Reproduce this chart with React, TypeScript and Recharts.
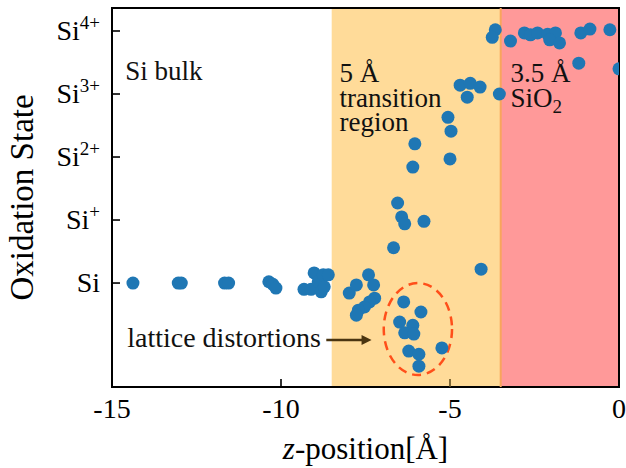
import React from "react";
import {
  ScatterChart,
  Scatter,
  XAxis,
  YAxis,
  ReferenceArea,
  ReferenceLine,
  ReferenceDot,
} from "recharts";

const FONT = '"Liberation Serif", "DejaVu Serif", serif';
const DOT = "#1f77b4";

// Si bulk (left of the transition region)
const bulkZ = [-14.38, -13.04, -12.95, -11.67, -11.55, -10.36, -10.24, -10.15, -9.32, -9.11, -9.02, -8.9, -8.81, -8.75, -8.72, -8.6];
const bulkState = [0, 0, 0, 0, 0, 0.02, -0.02, -0.08, -0.1, -0.1, 0.16, 0.02, -0.14, 0.13, -0.06, 0.13];

// transition region
const transZ = [-7.98, -7.77, -7.41, -7.26, -7.23, -7.38, -7.53, -7.71, -7.77, -6.67, -6.55, -6.43, -6.34, -5.77, -4.08, -6.1, -6.04, -5.0, -4.97, -5.06, -4.7, -4.4, -4.11, -4.49, -3.54];
const transState = [-0.16, -0.03, 0.13, -0.03, -0.24, -0.3, -0.38, -0.43, -0.51, 0.56, 1.27, 1.05, 0.94, 0.98, 0.22, 1.84, 2.21, 1.97, 2.41, 2.63, 3.14, 3.17, 3.11, 2.95, 3.0];

// lattice distortions (inside the dashed ellipse)
const distortZ = [-6.37, -5.86, -6.49, -6.1, -6.34, -6.07, -6.22, -5.92, -5.92, -5.24];
const distortState = [-0.3, -0.46, -0.62, -0.67, -0.79, -0.81, -1.08, -1.13, -1.32, -1.03];

// SiO2
const oxideZ = [-3.66, -3.75, -3.21, -2.8, -2.62, -2.41, -2.11, -1.88, -2.05, -1.76, -1.13, -0.86, -0.27, -1.19, 0.0];
const oxideState = [4.02, 3.9, 3.84, 3.97, 3.94, 3.97, 3.95, 3.97, 3.86, 3.81, 3.97, 4.03, 4.02, 3.49, 3.4];

const zTicks = [-15, -10, -5, 0];
const stateTicks = [0, 1, 2, 3, 4];
const stateCharges = ["", "+", "2+", "3+", "4+"];

const zDomain: [number, number] = [-15, 0];
const stateDomain: [number, number] = [-1.65, 4.365];

const toPoints = (z: number[], s: number[]) => z.map((v, i) => ({ z: v, state: s[i] }));

const dotShape = (p: any) => <circle cx={p.cx} cy={p.cy} r={6.5} fill={DOT} />;

const XTick = ({ x, y, payload }: any) => (
  <g>
    <line x1={x} y1={y} x2={x} y2={y - 8} stroke={payload.value === -5 ? "#5c4a1e" : "#000"} strokeWidth={1.6} />
    <text x={x} y={y + 31} textAnchor="middle" fontSize={28} fill="#000" fontFamily={FONT}>
      {payload.value}
    </text>
  </g>
);

const YTick = ({ x, y, payload }: any) => {
  const charge = stateCharges[stateTicks.indexOf(payload.value)];
  return (
    <g>
      <line x1={x} y1={y} x2={x + 8} y2={y} stroke="#000" strokeWidth={1.6} />
      <text x={x - 12} y={y + 9} textAnchor="end" fontSize={28} fill="#000" fontFamily={FONT}>
        Si
        {charge ? (
          <tspan dy={-11} fontSize={19}>
            {charge}
          </tspan>
        ) : null}
      </text>
    </g>
  );
};

const note = (content: React.ReactNode, size = 27) => (p: any) => (
  <text x={p.cx} y={p.cy} fontSize={size} fill="#111" fontFamily={FONT}>
    {content}
  </text>
);

export default function App() {
  return (
    <div style={{ position: "absolute", left: 0, top: 0, width: 626, height: 468, background: "#fff", fontFamily: FONT }}>
      <ScatterChart width={626} height={468} margin={{ top: 8, right: 7, bottom: 0, left: 0 }}>
        <XAxis
          dataKey="z"
          type="number"
          domain={zDomain}
          ticks={zTicks}
          allowDataOverflow
          height={81}
          axisLine={false}
          tickLine={false}
          tickSize={0}
          tickMargin={0}
          tick={<XTick />}
          label={(props: any) => {
            const vb = props.viewBox;
            return (
              <text x={vb.x + vb.width / 2} y={vb.y + 72} textAnchor="middle" fontSize={31} fill="#000" fontFamily={FONT}>
                <tspan fontStyle="italic">z</tspan>-position[Å]
              </text>
            );
          }}
        />
        <YAxis
          dataKey="state"
          type="number"
          domain={stateDomain}
          ticks={stateTicks}
          allowDataOverflow
          width={112}
          axisLine={false}
          tickLine={false}
          tickSize={0}
          tickMargin={0}
          tick={<YTick />}
          label={(props: any) => {
            const vb = props.viewBox;
            const cy = vb.y + vb.height / 2;
            return (
              <text x={33} y={cy} transform={`rotate(-90, 33, ${cy})`} textAnchor="middle" fontSize={33} fill="#000" fontFamily={FONT}>
                Oxidation State
              </text>
            );
          }}
        />

        <ReferenceArea x1={-8.5} x2={-3.5} y1={stateDomain[0]} y2={stateDomain[1]} fill="#ffdb99" fillOpacity={1} stroke="none" />
        <ReferenceArea x1={-3.5} x2={0} y1={stateDomain[0]} y2={stateDomain[1]} fill="#ff9999" fillOpacity={1} stroke="none" />
        <ReferenceLine x={-3.5} stroke="#f8a55c" strokeWidth={2} />

        <Scatter data={toPoints(bulkZ, bulkState)} fill={DOT} shape={dotShape} isAnimationActive={false} />
        <Scatter data={toPoints(transZ, transState)} fill={DOT} shape={dotShape} isAnimationActive={false} />
        <Scatter data={toPoints(distortZ, distortState)} fill={DOT} shape={dotShape} isAnimationActive={false} />
        <Scatter data={toPoints(oxideZ, oxideState)} fill={DOT} shape={dotShape} isAnimationActive={false} />

        <ReferenceArea
          x1={-6.96}
          x2={-4.94}
          y1={-1.46}
          y2={0}
          shape={(p: any) => (
            <ellipse
              cx={p.x + p.width / 2}
              cy={p.y + p.height / 2}
              rx={p.width / 2}
              ry={p.height / 2}
              fill="none"
              stroke="#ff4f1a"
              strokeWidth={2.5}
              strokeDasharray="9 6"
            />
          )}
        />
        <ReferenceLine
          segment={[
            { x: -8.66, y: -0.905 },
            { x: -7.32, y: -0.905 },
          ]}
          shape={(p: any) => (
            <g>
              <line x1={p.x1} y1={p.y1} x2={p.x2 - 8} y2={p.y2} stroke="#4a3510" strokeWidth={2.5} />
              <polygon points={`${p.x2},${p.y2} ${p.x2 - 10},${p.y2 - 5} ${p.x2 - 10},${p.y2 + 5}`} fill="#4a3510" />
            </g>
          )}
        />

        <ReferenceDot x={-14.61} y={3.22} shape={note("Si bulk")} />
        <ReferenceDot x={-8.27} y={3.19} shape={note("5 Å")} />
        <ReferenceDot x={-8.27} y={2.79} shape={note("transition")} />
        <ReferenceDot x={-8.27} y={2.41} shape={note("region")} />
        <ReferenceDot x={-3.21} y={3.19} shape={note("3.5 Å")} />
        <ReferenceDot
          x={-3.21}
          y={2.79}
          shape={note(
            <>
              SiO
              <tspan dy={6} fontSize={19}>
                2
              </tspan>
            </>
          )}
        />
        <ReferenceDot x={-14.55} y={-1.02} shape={note("lattice distortions", 28)} />

        <ReferenceArea x1={zDomain[0]} x2={zDomain[1]} y1={stateDomain[0]} y2={stateDomain[1]} fill="none" stroke="#000" strokeWidth={2} />
      </ScatterChart>
    </div>
  );
}
